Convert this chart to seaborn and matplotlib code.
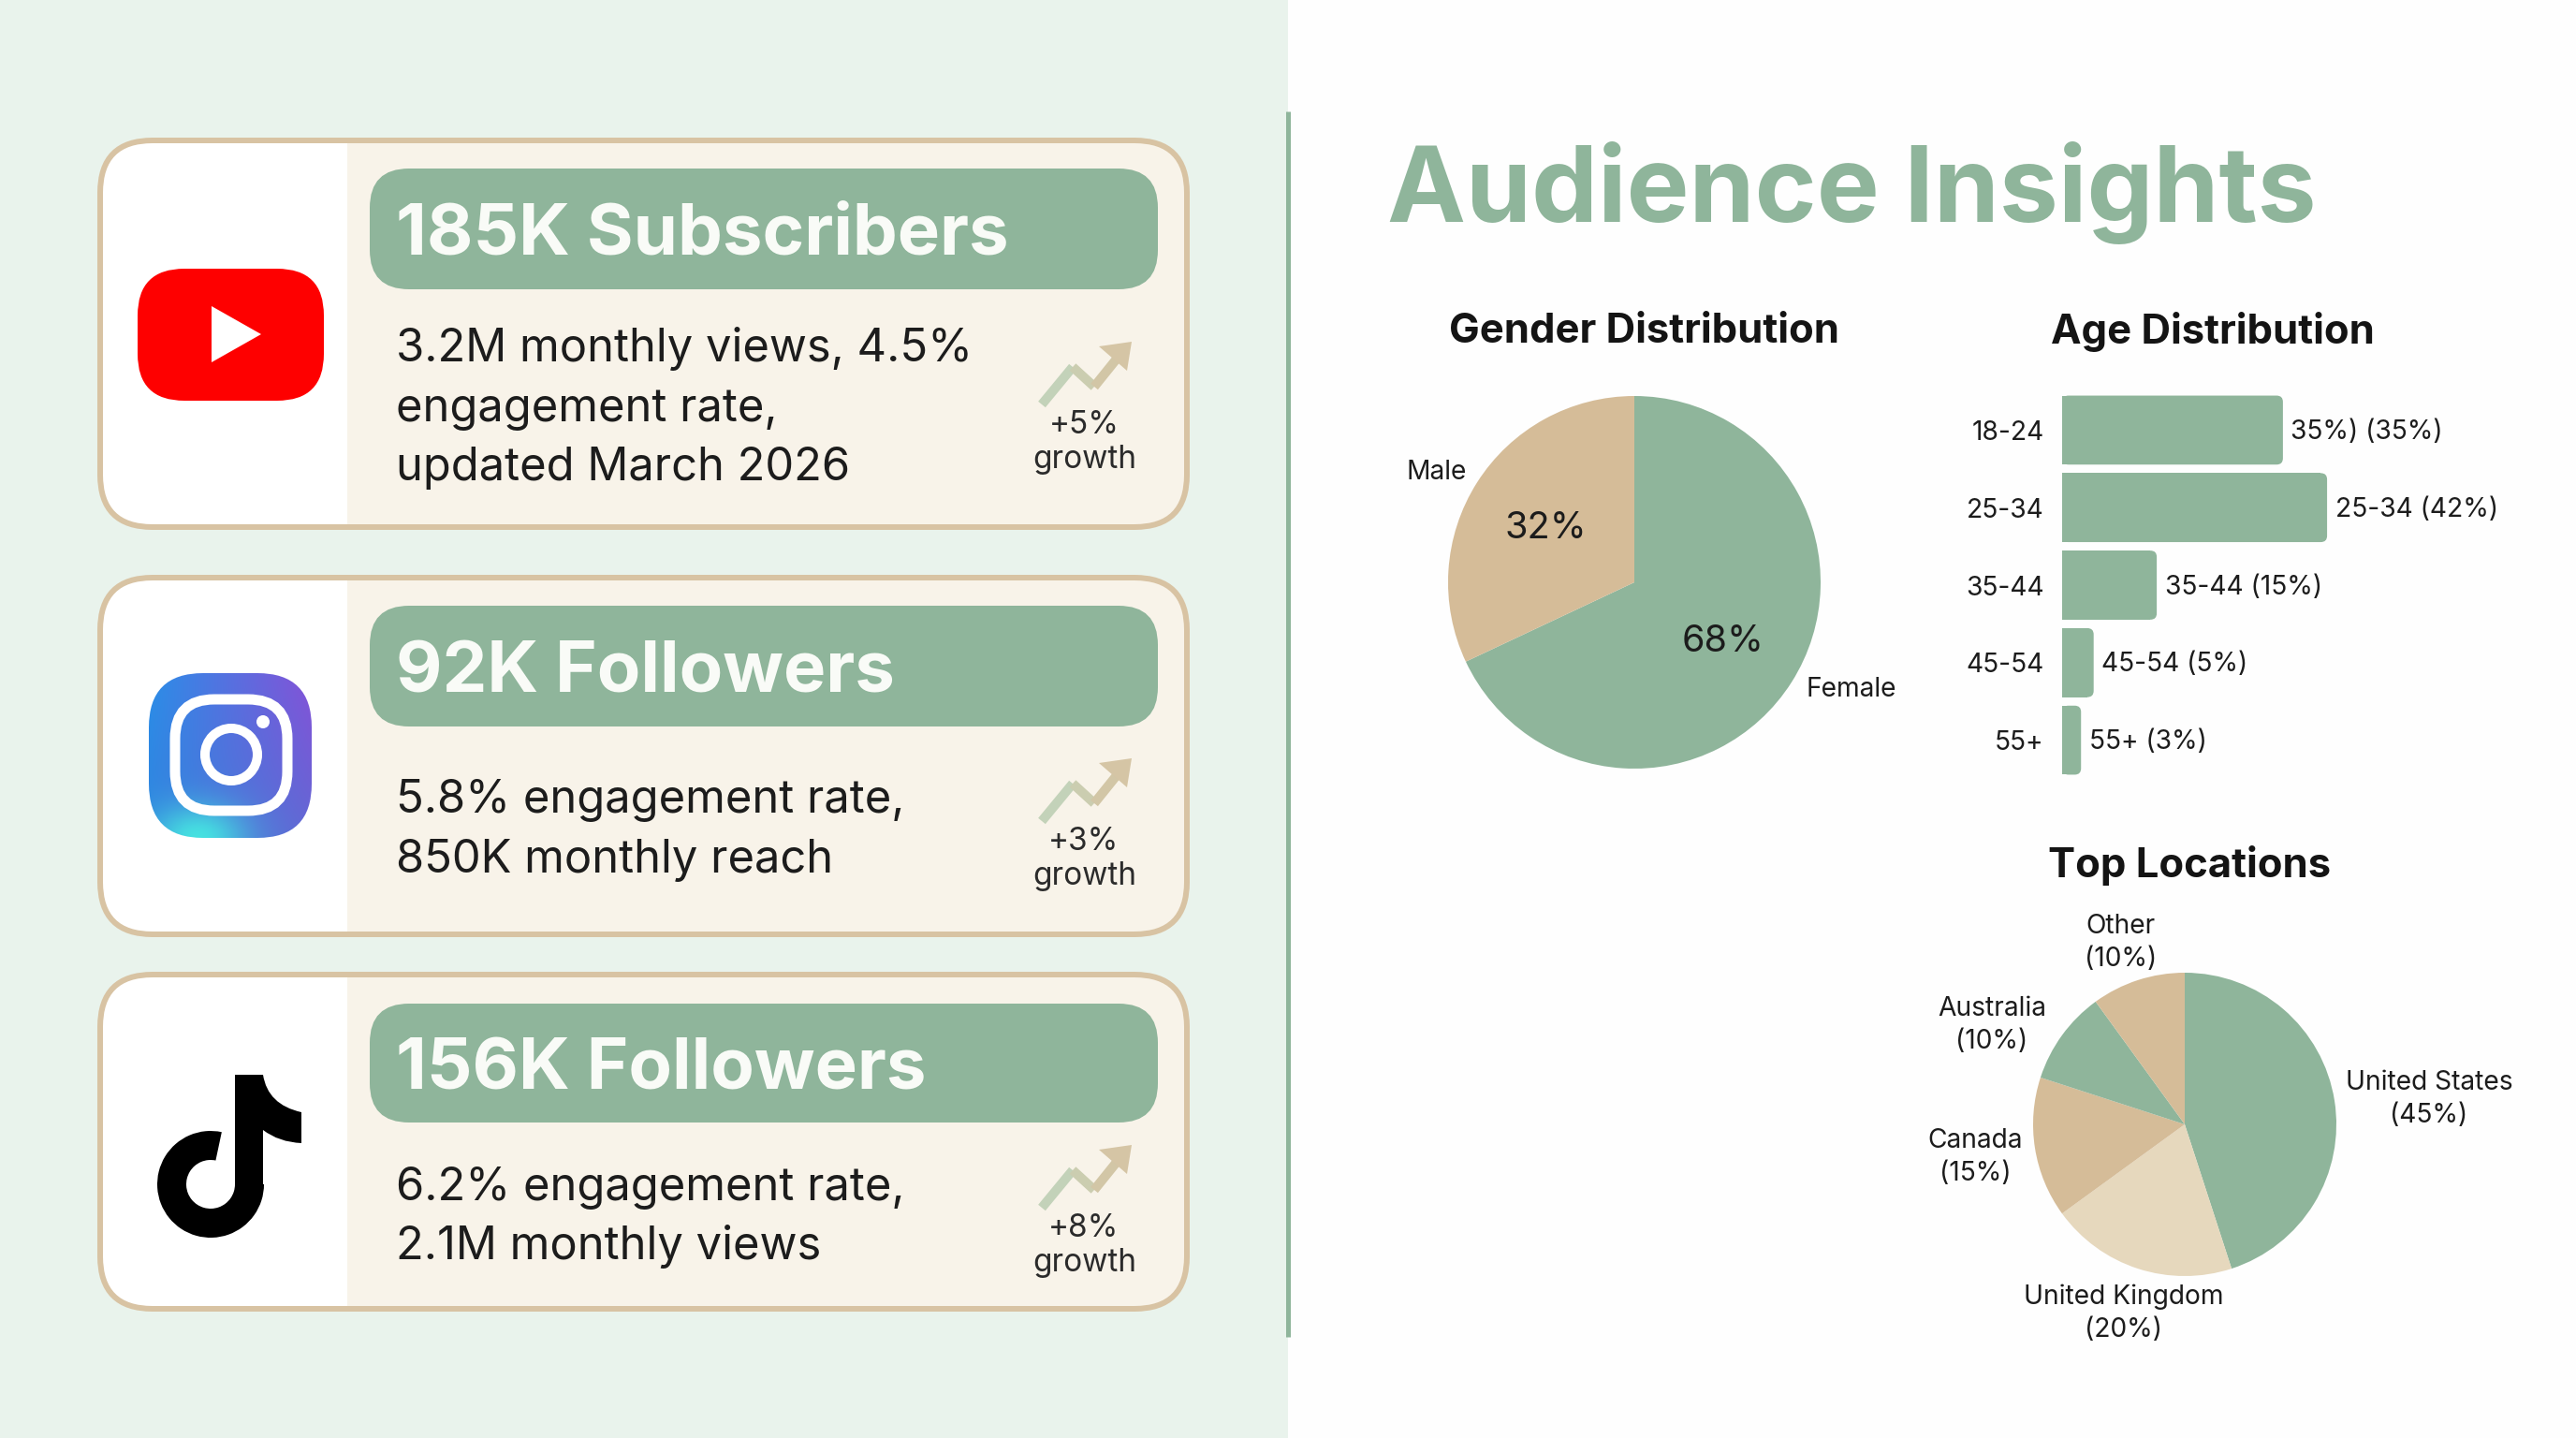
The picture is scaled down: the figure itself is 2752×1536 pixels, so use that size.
# Social media stats cards (left) and audience charts (right)
import numpy as np
import matplotlib
matplotlib.use('Agg')
import matplotlib.pyplot as plt
import seaborn as sns
from matplotlib.patches import FancyBboxPatch, Rectangle, Polygon, Circle, Wedge, PathPatch
from matplotlib.path import Path

# DATA
card_titles = ['185K Subscribers', '92K Followers', '156K Followers']
card_bodies = [
    ['3.2M monthly views, 4.5%', 'engagement rate,', 'updated March 2026'],
    ['5.8% engagement rate,', '850K monthly reach'],
    ['6.2% engagement rate,', '2.1M monthly views'],
]
card_growth = ['+5%', '+3%', '+8%']

gender_labels = ['Female', 'Male']
gender_values = [68, 32]

age_groups = ['18-24', '25-34', '35-44', '45-54', '55+']
age_values = [35, 42, 15, 5, 3]
age_bar_labels = ['35%) (35%)', '25-34 (42%)', '35-44 (15%)', '45-54 (5%)', '55+ (3%)']

location_labels = ['United States\n(45%)', 'United Kingdom\n(20%)', 'Canada\n(15%)',
                   'Australia\n(10%)', 'Other\n(10%)']
location_values = [45, 20, 15, 10, 10]

# STYLE
W, H = 2752, 1536
GREEN = '#8fb59b'
TAN = '#d5bc98'
LIGHT_TAN = '#e6d8bd'
CREAM = '#f8f3e9'
LEFT_BG = '#e9f3ec'
RIGHT_BG = '#fefefe'
DARK = '#1c1c1c'
FONT = 'Inter'
PX = 0.72  # points per pixel at dpi 100

sns.set_theme(style='white')
plt.rcParams['font.family'] = [FONT, 'DejaVu Sans']

fig = plt.figure(figsize=(W / 100, H / 100), dpi=100, facecolor=RIGHT_BG)

# overlay in pixel coordinates for the cards and headings
ov = fig.add_axes([0, 0, 1, 1])
ov.set_xlim(0, W)
ov.set_ylim(H, 0)
ov.axis('off')


def rounded(x0, y0, x1, y1, r, **kw):
    p = FancyBboxPatch((x0, y0), x1 - x0, y1 - y0,
                       boxstyle=f'round,pad=0,rounding_size={r}', **kw)
    ov.add_patch(p)
    return p


def pie_axes(cx, cy, r):
    return fig.add_axes([(cx - 1.25 * r) / W, 1 - (cy + 1.25 * r) / H, 2.5 * r / W, 2.5 * r / H])


def move_labels(texts, spots, size):
    for t, (x, y) in zip(texts, spots):
        t.set_transform(ov.transData)
        t.set_position((x, y))
        t.set_ha('center')
        t.set_va('center')
        t.set_fontsize(size)
        t.set_color(DARK)
        t.set_linespacing(1.4)


# BACKGROUND
ov.add_patch(Rectangle((0, 0), 1376, H, color=LEFT_BG, lw=0))
ov.plot([1376, 1376], [119, 1428], color=GREEN, lw=5 * PX, solid_capstyle='butt')

# CARDS
card_boxes = [(150, 563), (617, 998), (1041, 1398)]
header_boxes = [(180, 309), (647, 776), (1072, 1199)]
title_base = [272, 739, 1163]
body_base = [[386, 450, 513], [868, 932], [1282, 1345]]
growth_base = [(463, 500), (908, 945), (1321, 1358)]
arrow_shift = [0, 445, 858]

for i in range(3):
    y0, y1 = card_boxes[i]
    card = rounded(107, y0, 1268, y1, 56, fc='white', ec='none', zorder=2)
    cream = Rectangle((371, y0), 900, y1 - y0, fc=CREAM, ec='none', lw=0, zorder=2.1)
    ov.add_patch(cream)
    cream.set_clip_path(card)
    rounded(107, y0, 1268, y1, 56, fc='none', ec='#d8c3a3', lw=6 * PX, zorder=2.2)

    hy0, hy1 = header_boxes[i]
    rounded(395, hy0, 1237, hy1, 42, fc=GREEN, ec='none', lw=0, zorder=3)
    ov.text(423, title_base[i], card_titles[i], color='#f9fbf7', fontsize=54.8,
            fontweight='bold', va='baseline', zorder=4)
    for line, yb in zip(card_bodies[i], body_base[i]):
        ov.text(423, yb, line, color=DARK, fontsize=35.2, va='baseline', zorder=4)
    ov.text(1158, growth_base[i][0], card_growth[i], color='#2b2b2b', fontsize=24,
            ha='center', va='baseline', zorder=4)
    ov.text(1159, growth_base[i][1], 'growth', color='#2b2b2b', fontsize=24,
            ha='center', va='baseline', zorder=4)

    # growth arrow
    s = arrow_shift[i]
    xs = [1113, 1146, 1169, 1194]
    ys = [432 + s, 392 + s, 413 + s, 382 + s]
    for k, col in enumerate(['#c3d2b9', '#cbcdb0', '#d2c6a6']):
        ov.plot(xs[k:k + 2], ys[k:k + 2], color=col, lw=10 * PX, zorder=3,
                solid_capstyle='butt', solid_joinstyle='miter')
    ov.add_patch(Polygon([(1209, 365 + s), (1174, 370 + s), (1204, 396 + s)],
                         fc='#d5c5a5', ec='none', lw=0, zorder=3))

# YOUTUBE LOGO
rounded(147, 287, 346, 428, 50, fc='#fe0000', ec='none', lw=0, zorder=4)
ov.add_patch(Polygon([(226, 327), (226, 387), (279, 357)], fc='white', ec='none', lw=0, zorder=5))

# INSTAGRAM LOGO
tl, tr = np.array([43, 142, 232]), np.array([132, 82, 216])
bl, br = np.array([50, 130, 222]), np.array([98, 104, 212])
u, v = np.meshgrid(np.linspace(0, 1, 120), np.linspace(0, 1, 120))
grad = (((1 - u) * (1 - v))[..., None] * tl + (u * (1 - v))[..., None] * tr
        + ((1 - u) * v)[..., None] * bl + (u * v)[..., None] * br) / 255
glow = np.exp(-(((u - 0.3) / 0.3) ** 2 + ((v - 1.0) / 0.2) ** 2))[..., None]
grad = grad * (1 - glow) + np.array([70, 225, 225]) / 255 * glow
ig_box = rounded(159, 719, 333, 895, 58, fc='none', ec='none', lw=0, zorder=4)
ig = ov.imshow(grad, extent=(159, 333, 895, 719), zorder=4, aspect='auto', interpolation='bilinear')
ig.set_clip_path(ig_box)
ov.set_xlim(0, W)
ov.set_ylim(H, 0)
rounded(187, 747, 307, 866, 42, fc='none', ec='white', lw=11 * PX, zorder=5)
ov.add_patch(Circle((247, 806), 28, fc='none', ec='white', lw=10 * PX, zorder=5))
ov.add_patch(Circle((281, 771), 7, fc='white', ec='none', lw=0, zorder=5))

# TIKTOK LOGO
ov.add_patch(Wedge((225, 1265), 57, 0, 282, width=31, fc='black', ec='none', lw=0, zorder=4))
ov.add_patch(Rectangle((251, 1148), 30, 118, fc='black', ec='none', lw=0, zorder=4))
flag = Path([(281, 1148), (286, 1180), (322, 1188), (322, 1221), (298, 1220), (281, 1207), (281, 1148)],
            [Path.MOVETO, Path.CURVE3, Path.CURVE3, Path.LINETO, Path.CURVE3, Path.CURVE3, Path.CLOSEPOLY])
ov.add_patch(PathPatch(flag, fc='black', ec='none', lw=0, zorder=4))

# HEADINGS
ov.text(1482, 237, 'Audience Insights', color=GREEN, fontsize=81, fontweight='bold', va='baseline')
ov.text(1756, 355, 'Gender Distribution', color='#141414', fontsize=31.4, fontweight='bold', ha='center', va='center')
ov.text(2364, 355, 'Age Distribution', color='#141414', fontsize=31.4, fontweight='bold', ha='center', va='center')
ov.text(2339, 924, 'Top Locations', color='#141414', fontsize=31.4, fontweight='bold', ha='center', va='center')

# GENDER PIE
ax1 = pie_axes(1746, 622, 199)
ax1.set_facecolor('none')
wedges, texts, pcts = ax1.pie(gender_values, labels=gender_labels, colors=[GREEN, TAN], startangle=90,
                              counterclock=False, autopct='%d%%', pctdistance=0.565,
                              wedgeprops={'linewidth': 0})
for p in pcts:
    px, py = p.get_position()
    p.set_position((px, py - 0.015))
    p.set_fontsize(28.5)
    p.set_color(DARK)
move_labels(texts, [(1978, 736), (1535, 504)], 20.3)

# AGE BARS
bar_x0, row_h, px_per_pct = 2203, 82.8, 6.74
ax2 = fig.add_axes([bar_x0 / W, 1 - (790.6 + row_h / 2) / H, 540 / W, row_h * 5 / H])
ax2.set_facecolor('none')
sns.barplot(x=age_values, y=age_groups, ax=ax2, color=GREEN, saturation=1, width=0.89, orient='h', linewidth=0)
ax2.set_xlim(0, 540 / px_per_pct)
ax2.set(xlabel='', ylabel='')
ax2.xaxis.set_visible(False)
sns.despine(ax=ax2, left=True, bottom=True)
ax2.tick_params(axis='y', length=0, pad=14, labelsize=20.3, labelcolor=DARK)

# round the outer end of each bar
corner = 1.0
for bar in list(ax2.containers[0]):
    x, y, w, h = bar.get_x(), bar.get_y(), bar.get_width(), bar.get_height()
    ax2.add_patch(FancyBboxPatch((x, y), w, h, boxstyle=f'round,pad=0,rounding_size={corner}',
                                 mutation_aspect=px_per_pct / row_h, fc=GREEN, ec='none', lw=0))
    bar.set_width(w - corner)
for lab in ax2.bar_label(ax2.containers[0], labels=age_bar_labels, padding=11, fontsize=20.3, color=DARK):
    lab.xyann = (lab.xyann[0], -1.5)

# LOCATION PIE
ax3 = pie_axes(2334, 1201, 162)
ax3.set_facecolor('none')
wedges, texts = ax3.pie(location_values, labels=location_labels, startangle=90, counterclock=False,
                        colors=[GREEN, LIGHT_TAN, TAN, GREEN, TAN], wedgeprops={'linewidth': 0})
move_labels(texts, [(2595, 1174), (2269, 1403), (2110, 1236), (2128, 1095), (2266, 1007)], 20.3)

fig.savefig('out.png', dpi=100, facecolor=RIGHT_BG)
